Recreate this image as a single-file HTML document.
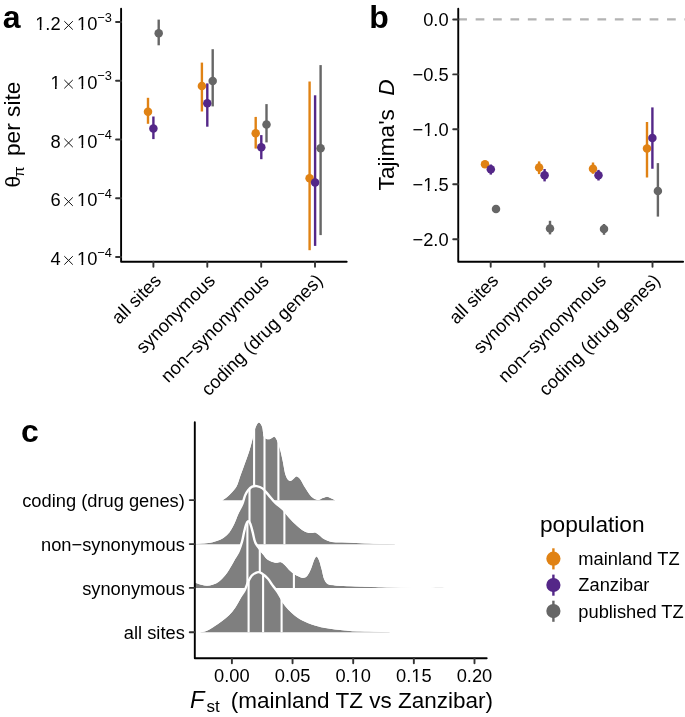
<!DOCTYPE html>
<html><head><meta charset="utf-8"><style>
html,body{margin:0;padding:0;background:#fff;}
svg{display:block;font-family:"Liberation Sans", sans-serif;will-change:transform;}
</style></head><body>
<svg width="685" height="717" viewBox="0 0 685 717">
<rect width="685" height="717" fill="#fff"/>
<path d="M121.1,8.7 V261.8 H346.7" fill="none" stroke="#000" stroke-width="1.9" stroke-linejoin="round" stroke-linecap="round"/>
<line x1="116.05" y1="22" x2="121.1" y2="22" stroke="#333" stroke-width="1.9" stroke-linecap="round"/>
<line x1="116.05" y1="80.75" x2="121.1" y2="80.75" stroke="#333" stroke-width="1.9" stroke-linecap="round"/>
<line x1="116.05" y1="139.5" x2="121.1" y2="139.5" stroke="#333" stroke-width="1.9" stroke-linecap="round"/>
<line x1="116.05" y1="198.25" x2="121.1" y2="198.25" stroke="#333" stroke-width="1.9" stroke-linecap="round"/>
<line x1="116.05" y1="257" x2="121.1" y2="257" stroke="#333" stroke-width="1.9" stroke-linecap="round"/>
<text x="60.6" y="30.05" text-anchor="end" font-size="18.3">1.2</text>
<path d="M64.3,21.2 L72.8,29.6 M72.8,21.2 L64.3,29.6" stroke="#111" stroke-width="1.0" fill="none"/>
<text x="77.0" y="30.05" font-size="18.3">10<tspan font-size="12.8" dy="-8.5">−3</tspan></text>
<text x="60.6" y="88.8" text-anchor="end" font-size="18.3">1</text>
<path d="M64.3,79.95 L72.8,88.35 M72.8,79.95 L64.3,88.35" stroke="#111" stroke-width="1.0" fill="none"/>
<text x="77.0" y="88.8" font-size="18.3">10<tspan font-size="12.8" dy="-8.5">−3</tspan></text>
<text x="60.6" y="147.55" text-anchor="end" font-size="18.3">8</text>
<path d="M64.3,138.7 L72.8,147.1 M72.8,138.7 L64.3,147.1" stroke="#111" stroke-width="1.0" fill="none"/>
<text x="77.0" y="147.55" font-size="18.3">10<tspan font-size="12.8" dy="-8.5">−4</tspan></text>
<text x="60.6" y="206.3" text-anchor="end" font-size="18.3">6</text>
<path d="M64.3,197.45 L72.8,205.85 M72.8,197.45 L64.3,205.85" stroke="#111" stroke-width="1.0" fill="none"/>
<text x="77.0" y="206.3" font-size="18.3">10<tspan font-size="12.8" dy="-8.5">−4</tspan></text>
<text x="60.6" y="265.05" text-anchor="end" font-size="18.3">4</text>
<path d="M64.3,256.2 L72.8,264.6 M72.8,256.2 L64.3,264.6" stroke="#111" stroke-width="1.0" fill="none"/>
<text x="77.0" y="265.05" font-size="18.3">10<tspan font-size="12.8" dy="-8.5">−4</tspan></text>
<line x1="153.4" y1="261.8" x2="153.4" y2="266.85" stroke="#333" stroke-width="1.9" stroke-linecap="round"/>
<line x1="207.3" y1="261.8" x2="207.3" y2="266.85" stroke="#333" stroke-width="1.9" stroke-linecap="round"/>
<line x1="261.2" y1="261.8" x2="261.2" y2="266.85" stroke="#333" stroke-width="1.9" stroke-linecap="round"/>
<line x1="315.0" y1="261.8" x2="315.0" y2="266.85" stroke="#333" stroke-width="1.9" stroke-linecap="round"/>
<text transform="translate(162.2,281.8) rotate(-45)" text-anchor="end" font-size="18.3">all sites</text>
<text transform="translate(216.1,281.8) rotate(-45)" text-anchor="end" font-size="18.3">synonymous</text>
<text transform="translate(270,281.8) rotate(-45)" text-anchor="end" font-size="18.3">non−synonymous</text>
<text transform="translate(323.8,281.8) rotate(-45)" text-anchor="end" font-size="18.3">coding (drug genes)</text>
<text transform="translate(20.3,187.5) rotate(-90)" font-size="20.6">θ</text>
<text transform="translate(24.1,177.0) rotate(-90)" font-size="15.4">π</text>
<text transform="translate(20.1,156.0) rotate(-90)" font-size="22.7">per site</text>
<text x="2.7" y="27.7" font-size="32" font-weight="bold">a</text>
<line x1="148" y1="97.8" x2="148" y2="123.8" stroke="#E08214" stroke-width="2.4"/><circle cx="148" cy="111.8" r="4.25" fill="#E08214"/>
<line x1="153.4" y1="116.5" x2="153.4" y2="139.1" stroke="#542788" stroke-width="2.4"/><circle cx="153.4" cy="128.6" r="4.25" fill="#542788"/>
<line x1="158.7" y1="19.6" x2="158.7" y2="45.3" stroke="#666666" stroke-width="2.4"/><circle cx="158.7" cy="33.3" r="4.25" fill="#666666"/>
<line x1="201.9" y1="62.6" x2="201.9" y2="111.5" stroke="#E08214" stroke-width="2.4"/><circle cx="201.9" cy="86" r="4.25" fill="#E08214"/>
<line x1="207.3" y1="83.4" x2="207.3" y2="126.7" stroke="#542788" stroke-width="2.4"/><circle cx="207.3" cy="103.2" r="4.25" fill="#542788"/>
<line x1="212.7" y1="49.2" x2="212.7" y2="106.4" stroke="#666666" stroke-width="2.4"/><circle cx="212.7" cy="80.9" r="4.25" fill="#666666"/>
<line x1="255.7" y1="116.9" x2="255.7" y2="148.6" stroke="#E08214" stroke-width="2.4"/><circle cx="255.7" cy="133.2" r="4.25" fill="#E08214"/>
<line x1="261.3" y1="135.1" x2="261.3" y2="159.2" stroke="#542788" stroke-width="2.4"/><circle cx="261.3" cy="147.3" r="4.25" fill="#542788"/>
<line x1="266.5" y1="104.1" x2="266.5" y2="142.4" stroke="#666666" stroke-width="2.4"/><circle cx="266.5" cy="124.5" r="4.25" fill="#666666"/>
<line x1="309.6" y1="81.5" x2="309.6" y2="250.2" stroke="#E08214" stroke-width="2.4"/><circle cx="309.6" cy="178.3" r="4.25" fill="#E08214"/>
<line x1="315.1" y1="95.3" x2="315.1" y2="245.9" stroke="#542788" stroke-width="2.4"/><circle cx="315.1" cy="182.6" r="4.25" fill="#542788"/>
<line x1="320.6" y1="65.1" x2="320.6" y2="235.1" stroke="#666666" stroke-width="2.4"/><circle cx="320.6" cy="148.2" r="4.25" fill="#666666"/>
<line x1="458.25" y1="19.45" x2="685.1" y2="19.45" stroke="#b3b3b3" stroke-width="2.2" stroke-dasharray="8.7 8.7"/>
<path d="M458.25,8.7 V261.8 H683.1" fill="none" stroke="#000" stroke-width="1.9" stroke-linejoin="round" stroke-linecap="round"/>
<line x1="453.2" y1="19.45" x2="458.25" y2="19.45" stroke="#333" stroke-width="1.9" stroke-linecap="round"/>
<text x="448.6" y="25.85" text-anchor="end" font-size="18.3">0.0</text>
<line x1="453.2" y1="74.39" x2="458.25" y2="74.39" stroke="#333" stroke-width="1.9" stroke-linecap="round"/>
<text x="448.6" y="80.79" text-anchor="end" font-size="18.3">−0.5</text>
<line x1="453.2" y1="129.32" x2="458.25" y2="129.32" stroke="#333" stroke-width="1.9" stroke-linecap="round"/>
<text x="448.6" y="135.72" text-anchor="end" font-size="18.3">−1.0</text>
<line x1="453.2" y1="184.26" x2="458.25" y2="184.26" stroke="#333" stroke-width="1.9" stroke-linecap="round"/>
<text x="448.6" y="190.66" text-anchor="end" font-size="18.3">−1.5</text>
<line x1="453.2" y1="239.2" x2="458.25" y2="239.2" stroke="#333" stroke-width="1.9" stroke-linecap="round"/>
<text x="448.6" y="245.6" text-anchor="end" font-size="18.3">−2.0</text>
<line x1="490.7" y1="261.8" x2="490.7" y2="266.85" stroke="#333" stroke-width="1.9" stroke-linecap="round"/>
<line x1="544.6" y1="261.8" x2="544.6" y2="266.85" stroke="#333" stroke-width="1.9" stroke-linecap="round"/>
<line x1="598.4" y1="261.8" x2="598.4" y2="266.85" stroke="#333" stroke-width="1.9" stroke-linecap="round"/>
<line x1="652.5" y1="261.8" x2="652.5" y2="266.85" stroke="#333" stroke-width="1.9" stroke-linecap="round"/>
<text transform="translate(499.5,281.8) rotate(-45)" text-anchor="end" font-size="18.3">all sites</text>
<text transform="translate(553.4,281.8) rotate(-45)" text-anchor="end" font-size="18.3">synonymous</text>
<text transform="translate(607.2,281.8) rotate(-45)" text-anchor="end" font-size="18.3">non−synonymous</text>
<text transform="translate(661.3,281.8) rotate(-45)" text-anchor="end" font-size="18.3">coding (drug genes)</text>
<text transform="translate(393.8,134.9) rotate(-90)" text-anchor="middle" font-size="22.7">Tajima&#39;s<tspan dx="13.4" font-style="italic">D</tspan></text>
<text x="369.3" y="27.6" font-size="32" font-weight="bold">b</text>
<line x1="485" y1="161.5" x2="485" y2="167" stroke="#E08214" stroke-width="2.4"/><circle cx="485" cy="164.3" r="4.25" fill="#E08214"/>
<line x1="490.8" y1="164.5" x2="490.8" y2="174.6" stroke="#542788" stroke-width="2.4"/><circle cx="490.8" cy="169.2" r="4.25" fill="#542788"/>
<circle cx="496" cy="209" r="4.25" fill="#666666"/>
<line x1="539.1" y1="161.4" x2="539.1" y2="174.1" stroke="#E08214" stroke-width="2.4"/><circle cx="539.1" cy="167.5" r="4.25" fill="#E08214"/>
<line x1="544.6" y1="169" x2="544.6" y2="181.4" stroke="#542788" stroke-width="2.4"/><circle cx="544.6" cy="175.3" r="4.25" fill="#542788"/>
<line x1="550" y1="220.8" x2="550" y2="234.4" stroke="#666666" stroke-width="2.4"/><circle cx="550" cy="228.5" r="4.25" fill="#666666"/>
<line x1="593" y1="162.5" x2="593" y2="173.8" stroke="#E08214" stroke-width="2.4"/><circle cx="593" cy="168.75" r="4.25" fill="#E08214"/>
<line x1="598.5" y1="169.9" x2="598.5" y2="180.5" stroke="#542788" stroke-width="2.4"/><circle cx="598.5" cy="175.2" r="4.25" fill="#542788"/>
<line x1="604" y1="224" x2="604" y2="234.8" stroke="#666666" stroke-width="2.4"/><circle cx="604" cy="228.9" r="4.25" fill="#666666"/>
<line x1="647" y1="122" x2="647" y2="177.5" stroke="#E08214" stroke-width="2.4"/><circle cx="647" cy="148.4" r="4.25" fill="#E08214"/>
<line x1="652.4" y1="107.4" x2="652.4" y2="168.75" stroke="#542788" stroke-width="2.4"/><circle cx="652.4" cy="138.1" r="4.25" fill="#542788"/>
<line x1="657.9" y1="163.1" x2="657.9" y2="216.6" stroke="#666666" stroke-width="2.4"/><circle cx="657.9" cy="191" r="4.25" fill="#666666"/>
<clipPath id="cc"><rect x="194.8" y="400" width="291.9" height="258.29999999999995"/></clipPath>
<g clip-path="url(#cc)">
<path d="M222.5,500.3 C223.55,499.48 226.48,497.68 228.8,495.4 C231.12,493.12 234.52,489.75 236.4,486.6 C238.28,483.45 238.65,480.48 240.1,476.5 C241.55,472.52 243.53,467.08 245.1,462.7 C246.67,458.32 248.23,454.28 249.5,450.2 C250.77,446.12 251.67,442.07 252.7,438.2 C253.73,434.33 254.65,429.62 255.7,427 C256.75,424.38 257.92,422.5 259,422.5 C260.08,422.5 261.43,424.75 262.2,427 C262.97,429.25 262.88,434.02 263.6,436 C264.32,437.98 265.38,438.42 266.5,438.9 C267.62,439.38 268.98,439.28 270.3,438.9 C271.62,438.52 273.3,436.4 274.4,436.6 C275.5,436.8 275.97,438.05 276.9,440.1 C277.83,442.15 279.05,445.55 280,448.9 C280.95,452.25 281.65,455.8 282.6,460.2 C283.55,464.6 284.45,471.85 285.7,475.3 C286.95,478.75 288.32,480.73 290.1,480.9 C291.88,481.07 294.73,476.62 296.4,476.3 C298.07,475.98 298.63,477.08 300.1,479 C301.57,480.92 303.32,484.87 305.2,487.8 C307.08,490.73 309.32,494.58 311.4,496.6 C313.48,498.62 315.82,499.67 317.7,499.9 C319.58,500.13 321.13,498.53 322.7,498 C324.27,497.47 325.63,496.63 327.1,496.7 C328.57,496.77 330.13,497.8 331.5,498.4 C332.87,499 334.67,499.98 335.3,500.3 L335.3,500.3 L222.5,500.3 Z" fill="#7f7f7f" stroke="none"/>
<line x1="254.1" y1="500.3" x2="254.1" y2="428.75" stroke="#fff" stroke-width="2.1"/>
<line x1="264.5" y1="500.3" x2="264.5" y2="434.76" stroke="#fff" stroke-width="2.1"/>
<line x1="278.4" y1="500.3" x2="278.4" y2="441.06" stroke="#fff" stroke-width="2.1"/>
<path d="M221.82,499.43 C222.86,498.63 225.76,496.85 228.03,494.62 C230.3,492.38 233.62,489.12 235.46,486.04 C237.3,482.95 237.63,480.07 239.07,476.12 C240.5,472.17 242.5,466.7 244.06,462.33 C245.63,457.95 247.19,453.94 248.45,449.87 C249.71,445.81 250.6,441.8 251.64,437.92 C252.68,434.04 253.45,429.34 254.68,426.59 C255.91,423.84 257.57,421.39 259,421.4 C260.43,421.41 262.3,424.27 263.24,426.65 C264.18,429.02 264.02,433.75 264.63,435.63 C265.25,437.5 266.04,437.52 266.94,437.89 C267.83,438.26 268.72,438.24 269.99,437.84 C271.27,437.45 273.28,435.22 274.6,435.52 C275.91,435.82 276.82,437.46 277.9,439.64 C278.98,441.82 280.1,445.21 281.06,448.6 C282.02,451.99 282.73,455.58 283.68,459.97 C284.62,464.36 285.65,471.62 286.73,474.93 C287.82,478.23 288.63,479.76 290.2,479.8 C291.78,479.85 294.4,475.46 296.19,475.22 C297.99,474.97 299.32,476.33 300.97,478.33 C302.63,480.33 304.26,484.29 306.13,487.21 C307.99,490.12 310.21,493.88 312.17,495.81 C314.12,497.74 316.14,498.62 317.84,498.81 C319.53,499 320.79,497.49 322.35,496.96 C323.9,496.42 325.55,495.53 327.15,495.6 C328.75,495.67 330.5,496.77 331.94,497.39 C333.38,498.01 335.15,499 335.79,499.32" fill="none" stroke="#fff" stroke-width="2.4" stroke-linejoin="round"/>
<path d="M193,543.9 C194.17,543.85 197.43,543.75 200,543.6 C202.57,543.45 205.62,543.43 208.4,543 C211.18,542.57 214.2,541.87 216.7,541 C219.2,540.13 221.3,539.23 223.4,537.8 C225.5,536.37 227.5,534.7 229.3,532.4 C231.1,530.1 232.75,526.95 234.2,524 C235.65,521.05 236.67,518 238,514.7 C239.33,511.4 241.02,507.42 242.2,504.2 C243.38,500.98 244.12,497.73 245.1,495.4 C246.08,493.07 246.92,491.65 248.1,490.2 C249.28,488.75 250.77,487.38 252.2,486.7 C253.63,486.02 254.98,485.82 256.7,486.1 C258.42,486.38 260.55,486.93 262.5,488.4 C264.45,489.87 266.25,492.47 268.4,494.9 C270.55,497.33 273.07,500.48 275.4,503 C277.73,505.52 280.07,507.47 282.4,510 C284.73,512.53 287.07,515.67 289.4,518.2 C291.73,520.73 294.02,523.07 296.4,525.2 C298.78,527.33 301.68,529.73 303.7,531 C305.72,532.27 307.12,532.48 308.5,532.8 C309.88,533.12 310.9,532.95 312,532.9 C313.1,532.85 313.95,532.18 315.1,532.5 C316.25,532.82 317.63,533.85 318.9,534.8 C320.17,535.75 321.28,537.23 322.7,538.2 C324.12,539.17 325.67,539.95 327.4,540.6 C329.13,541.25 330.17,541.8 333.1,542.1 C336.03,542.4 341.17,542.26 345,542.4 C348.83,542.54 352.27,542.78 356.1,542.95 C359.93,543.12 364.02,543.31 368,543.45 C371.98,543.59 375.42,543.67 380,543.8 C384.58,543.92 392.92,544.13 395.5,544.2 L395.5,544.2 L193,544.2 Z" fill="#7f7f7f" stroke="none"/>
<line x1="249.5" y1="544.2" x2="249.5" y2="489" stroke="#fff" stroke-width="2.1"/>
<line x1="264.6" y1="544.2" x2="264.6" y2="490.71" stroke="#fff" stroke-width="2.1"/>
<line x1="284.4" y1="544.2" x2="284.4" y2="510.65" stroke="#fff" stroke-width="2.1"/>
<path d="M192.95,542.8 C194.12,542.75 197.39,542.65 199.94,542.5 C202.48,542.35 205.5,542.34 208.23,541.91 C210.96,541.49 213.91,540.8 216.34,539.96 C218.76,539.12 220.76,538.26 222.78,536.89 C224.8,535.52 226.69,533.95 228.43,531.72 C230.17,529.49 231.79,526.42 233.21,523.51 C234.64,520.61 235.48,517.51 236.98,514.29 C238.48,511.07 240.85,507.35 242.2,504.2 C243.55,501.05 244.12,497.73 245.1,495.4 C246.08,493.07 246.92,491.65 248.1,490.2 C249.28,488.75 250.77,487.38 252.2,486.7 C253.63,486.02 254.98,485.82 256.7,486.1 C258.42,486.38 260.55,486.93 262.5,488.4 C264.45,489.87 266.25,492.47 268.4,494.9 C270.55,497.33 272.93,500.61 275.4,503 C277.87,505.39 280.74,506.85 283.21,509.25 C285.68,511.66 287.89,514.93 290.21,517.45 C292.53,519.98 294.79,522.28 297.13,524.38 C299.48,526.48 302.35,528.84 304.29,530.07 C306.22,531.29 307.47,531.44 308.75,531.73 C310.02,532.02 310.84,531.85 311.95,531.8 C313.06,531.75 314.12,531.09 315.39,531.44 C316.66,531.79 318.24,532.94 319.56,533.92 C320.88,534.9 321.95,536.35 323.32,537.29 C324.69,538.23 326.14,538.95 327.79,539.57 C329.43,540.19 330.34,540.72 333.21,541.01 C336.09,541.29 341.22,541.16 345.04,541.3 C348.86,541.44 352.32,541.68 356.15,541.85 C359.98,542.03 364.06,542.21 368.04,542.35 C372.02,542.49 375.45,542.58 380.03,542.7 C384.61,542.83 392.95,543.03 395.53,543.1" fill="none" stroke="#fff" stroke-width="2.4" stroke-linejoin="round"/>
<path d="M193,582.4 C193.45,582.47 194.32,582.42 195.7,582.8 C197.08,583.18 199.42,584.22 201.3,584.7 C203.18,585.18 205.12,585.7 207,585.7 C208.88,585.7 210.62,585.38 212.6,584.7 C214.58,584.02 216.8,583.17 218.9,581.6 C221,580.03 223.32,577.6 225.2,575.3 C227.08,573 228.53,570.52 230.2,567.8 C231.87,565.08 233.73,561.73 235.2,559 C236.67,556.27 237.85,554.33 239,551.4 C240.15,548.47 241.27,544.53 242.1,541.4 C242.93,538.27 243.37,535.32 244,532.6 C244.63,529.88 245.27,526.98 245.9,525.1 C246.53,523.22 247.07,521.52 247.8,521.3 C248.53,521.08 249.47,521.92 250.3,523.8 C251.13,525.68 251.97,529.48 252.8,532.6 C253.63,535.72 254.18,539.6 255.3,542.5 C256.42,545.4 258.13,547.92 259.5,550 C260.87,552.08 262.15,553.4 263.5,555 C264.85,556.6 265.67,558.32 267.6,559.6 C269.53,560.88 272.92,562.28 275.1,562.7 C277.28,563.12 279.03,561.67 280.7,562.1 C282.37,562.53 283.63,563.93 285.1,565.3 C286.57,566.67 288.03,568.85 289.5,570.3 C290.97,571.75 292.53,573.07 293.9,574 C295.27,574.93 296.23,575.27 297.7,575.9 C299.17,576.53 301.13,577.8 302.7,577.8 C304.27,577.8 305.73,577.37 307.1,575.9 C308.47,574.43 309.75,571.62 310.9,569 C312.05,566.38 313.07,562.28 314,560.2 C314.93,558.12 315.67,556.5 316.5,556.5 C317.33,556.5 318.15,558.12 319,560.2 C319.85,562.28 320.75,565.85 321.6,569 C322.45,572.15 323.07,576.58 324.1,579.1 C325.13,581.62 325.98,583.05 327.8,584.1 C329.62,585.15 332.4,585.1 335,585.4 C337.6,585.7 339.23,585.7 343.4,585.9 C347.57,586.1 354.17,586.38 360,586.6 C365.83,586.82 369.48,587 378.4,587.2 C387.32,587.4 404.9,587.69 413.5,587.8 C422.1,587.91 425.72,587.88 430,587.85 C434.28,587.82 436.7,587.6 439.2,587.6 C441.7,587.6 443.07,587.78 445,587.85 C446.93,587.92 449.83,587.98 450.8,588 L450.8,588 L193,588 Z" fill="#7f7f7f" stroke="none"/>
<line x1="247.4" y1="588" x2="247.4" y2="522.1" stroke="#fff" stroke-width="2.1"/>
<line x1="259.8" y1="588" x2="259.8" y2="548.84" stroke="#fff" stroke-width="2.1"/>
<line x1="293.9" y1="588" x2="293.9" y2="572.57" stroke="#fff" stroke-width="2.1"/>
<path d="M193.16,581.31 C193.63,581.38 194.59,581.35 195.99,581.74 C197.4,582.13 199.74,583.16 201.57,583.63 C203.41,584.11 205.22,584.6 207,584.6 C208.78,584.6 210.37,584.31 212.24,583.66 C214.12,583.01 216.22,582.23 218.24,580.72 C220.26,579.21 222.51,576.85 224.35,574.6 C226.19,572.35 227.62,569.91 229.26,567.22 C230.91,564.54 232.66,561.14 234.23,558.48 C235.8,555.82 237.35,554.11 238.66,551.27 C239.97,548.42 241.21,544.51 242.1,541.4 C242.99,538.29 243.37,535.32 244,532.6 C244.63,529.88 245.27,526.98 245.9,525.1 C246.53,523.22 247.07,521.52 247.8,521.3 C248.53,521.08 249.47,521.92 250.3,523.8 C251.13,525.68 251.97,529.48 252.8,532.6 C253.63,535.72 254.06,539.68 255.3,542.5 C256.54,545.32 258.76,547.53 260.27,549.5 C261.77,551.46 263.02,552.76 264.34,554.29 C265.66,555.82 266.38,557.46 268.21,558.68 C270.04,559.91 273.18,561.23 275.31,561.62 C277.43,562.01 279.22,560.56 280.98,561.04 C282.73,561.51 284.3,563.08 285.85,564.5 C287.4,565.91 288.83,568.09 290.27,569.52 C291.72,570.95 293.21,572.2 294.52,573.09 C295.83,573.99 296.77,574.29 298.14,574.89 C299.5,575.49 301.34,576.66 302.7,576.7 C304.06,576.74 305.1,576.51 306.3,575.15 C307.49,573.79 308.78,571.12 309.89,568.56 C311.01,565.99 311.89,561.94 313,559.75 C314.1,557.56 315.33,555.39 316.5,555.4 C317.67,555.41 318.99,557.57 320.02,559.78 C321.05,562 321.81,565.56 322.66,568.71 C323.51,571.86 324.17,576.28 325.12,578.68 C326.07,581.09 326.68,582.21 328.35,583.15 C330.02,584.09 332.61,584.03 335.13,584.31 C337.64,584.58 339.3,584.6 343.45,584.8 C347.61,585 354.21,585.28 360.04,585.5 C365.87,585.72 369.51,585.9 378.42,586.1 C387.34,586.3 404.92,586.59 413.51,586.7 C422.11,586.81 425.71,586.78 429.99,586.75 C434.27,586.72 436.69,586.5 439.2,586.5 C441.71,586.5 443.1,586.68 445.04,586.75 C446.98,586.82 449.86,586.88 450.83,586.9" fill="none" stroke="#fff" stroke-width="2.4" stroke-linejoin="round"/>
<path d="M200.1,632.2 C201.15,632 204.1,631.93 206.4,631 C208.7,630.07 211.4,628.18 213.9,626.6 C216.4,625.02 218.88,623.38 221.4,621.5 C223.92,619.62 226.7,617.6 229,615.3 C231.3,613 233.32,610.43 235.2,607.7 C237.08,604.97 238.72,601.83 240.3,598.9 C241.88,595.97 243.45,592.82 244.7,590.1 C245.95,587.38 246.65,585 247.8,582.6 C248.95,580.2 250.03,577.42 251.6,575.7 C253.17,573.98 255.53,572.72 257.2,572.3 C258.87,571.88 259.8,572.13 261.6,573.2 C263.4,574.27 266.17,576.67 268,578.7 C269.83,580.73 271.03,583.07 272.6,585.4 C274.17,587.73 275.75,589.88 277.4,592.7 C279.05,595.52 280.67,599.45 282.5,602.3 C284.33,605.15 286.45,607.67 288.4,609.8 C290.35,611.93 292.27,613.53 294.2,615.1 C296.13,616.67 298.05,618.03 300,619.2 C301.95,620.37 303.95,621.23 305.9,622.1 C307.85,622.97 309.75,623.72 311.7,624.4 C313.65,625.08 315.65,625.67 317.6,626.2 C319.55,626.73 320.48,627.05 323.4,627.6 C326.32,628.15 331.5,629.03 335.1,629.5 C338.7,629.97 341.38,630.1 345,630.4 C348.62,630.7 349.38,631.02 356.8,631.3 C364.22,631.58 384.05,631.97 389.5,632.1 L389.5,632.2 L200.1,632.2 Z" fill="#7f7f7f" stroke="none"/>
<line x1="248.6" y1="632.2" x2="248.6" y2="581.15" stroke="#fff" stroke-width="2.1"/>
<line x1="263.1" y1="632.2" x2="263.1" y2="574.49" stroke="#fff" stroke-width="2.1"/>
<line x1="281.6" y1="632.2" x2="281.6" y2="598.68" stroke="#fff" stroke-width="2.1"/>
<path d="M199.89,631.12 C200.91,630.93 203.75,630.89 205.99,629.98 C208.22,629.07 210.85,627.23 213.31,625.67 C215.77,624.11 218.26,622.48 220.74,620.62 C223.23,618.76 225.96,616.78 228.22,614.52 C230.48,612.26 232.44,609.77 234.29,607.08 C236.15,604.39 237.6,601.21 239.33,598.38 C241.07,595.55 243.29,592.73 244.7,590.1 C246.11,587.47 246.65,585 247.8,582.6 C248.95,580.2 250.03,577.42 251.6,575.7 C253.17,573.98 255.53,572.72 257.2,572.3 C258.87,571.88 259.8,572.13 261.6,573.2 C263.4,574.27 266.17,576.67 268,578.7 C269.83,580.73 270.96,583.11 272.6,585.4 C274.24,587.69 276.04,589.72 277.84,592.44 C279.65,595.16 281.53,598.94 283.43,601.7 C285.32,604.47 287.3,606.97 289.21,609.06 C291.12,611.15 293,612.71 294.89,614.25 C296.78,615.78 298.66,617.11 300.56,618.26 C302.47,619.4 304.43,620.24 306.35,621.09 C308.26,621.95 310.14,622.69 312.06,623.36 C313.99,624.04 315.97,624.61 317.89,625.14 C319.81,625.67 320.71,625.97 323.6,626.52 C326.5,627.06 331.66,627.95 335.24,628.41 C338.82,628.87 341.49,629.01 345.09,629.3 C348.69,629.6 349.44,629.92 356.84,630.2 C364.25,630.48 384.08,630.87 389.53,631" fill="none" stroke="#fff" stroke-width="2.4" stroke-linejoin="round"/>
</g>
<path d="M194.8,422.2 V658.3 H486.7" fill="none" stroke="#000" stroke-width="1.9" stroke-linejoin="round" stroke-linecap="round"/>
<line x1="189.75" y1="500.1" x2="194.8" y2="500.1" stroke="#333" stroke-width="1.9" stroke-linecap="round"/>
<text x="184.8" y="506.8" text-anchor="end" font-size="18.3">coding (drug genes)</text>
<line x1="189.75" y1="544.1" x2="194.8" y2="544.1" stroke="#333" stroke-width="1.9" stroke-linecap="round"/>
<text x="184.8" y="550.8" text-anchor="end" font-size="18.3">non−synonymous</text>
<line x1="189.75" y1="587.9" x2="194.8" y2="587.9" stroke="#333" stroke-width="1.9" stroke-linecap="round"/>
<text x="184.8" y="594.6" text-anchor="end" font-size="18.3">synonymous</text>
<line x1="189.75" y1="632.2" x2="194.8" y2="632.2" stroke="#333" stroke-width="1.9" stroke-linecap="round"/>
<text x="184.8" y="638.9" text-anchor="end" font-size="18.3">all sites</text>
<line x1="231.9" y1="658.3" x2="231.9" y2="663.35" stroke="#333" stroke-width="1.9" stroke-linecap="round"/>
<text x="231.9" y="682.2" text-anchor="middle" font-size="18.3">0.00</text>
<line x1="292.55" y1="658.3" x2="292.55" y2="663.35" stroke="#333" stroke-width="1.9" stroke-linecap="round"/>
<text x="292.55" y="682.2" text-anchor="middle" font-size="18.3">0.05</text>
<line x1="353.2" y1="658.3" x2="353.2" y2="663.35" stroke="#333" stroke-width="1.9" stroke-linecap="round"/>
<text x="353.2" y="682.2" text-anchor="middle" font-size="18.3">0.10</text>
<line x1="413.85" y1="658.3" x2="413.85" y2="663.35" stroke="#333" stroke-width="1.9" stroke-linecap="round"/>
<text x="413.85" y="682.2" text-anchor="middle" font-size="18.3">0.15</text>
<line x1="474.5" y1="658.3" x2="474.5" y2="663.35" stroke="#333" stroke-width="1.9" stroke-linecap="round"/>
<text x="474.5" y="682.2" text-anchor="middle" font-size="18.3">0.20</text>
<text x="190.0" y="707.9" font-size="23.6" font-style="italic">F</text>
<text x="206.4" y="712.0" font-size="17">st</text>
<text x="230.8" y="707.8" font-size="22.5">(mainland TZ vs Zanzibar)</text>
<text x="20.9" y="441.8" font-size="32" font-weight="bold">c</text>
<text x="539.9" y="532.0" font-size="22.7">population</text>
<line x1="553.4" y1="548.3" x2="553.4" y2="569.4" stroke="#E08214" stroke-width="2.4"/>
<circle cx="553.4" cy="558.7" r="7.1" fill="#E08214"/>
<text x="578.3" y="565.1" font-size="18.3">mainland TZ</text>
<line x1="553.4" y1="574.6" x2="553.4" y2="595.7" stroke="#542788" stroke-width="2.4"/>
<circle cx="553.4" cy="585" r="7.1" fill="#542788"/>
<text x="578.3" y="591.4" font-size="18.3">Zanzibar</text>
<line x1="553.4" y1="600.7" x2="553.4" y2="621.8" stroke="#666666" stroke-width="2.4"/>
<circle cx="553.4" cy="611.1" r="7.1" fill="#666666"/>
<text x="578.3" y="617.5" font-size="18.3">published TZ</text>
<rect x="35.18" y="27.49" width="4.54" height="3.2" fill="#fff"/>
<rect x="41.38" y="27.49" width="4.04" height="3.2" fill="#fff"/>
<rect x="77" y="27.49" width="4.54" height="3.2" fill="#fff"/>
<rect x="83.2" y="27.49" width="4.04" height="3.2" fill="#fff"/>
<rect x="50.43" y="86.24" width="4.54" height="3.2" fill="#fff"/>
<rect x="56.63" y="86.24" width="4.04" height="3.2" fill="#fff"/>
<rect x="77" y="86.24" width="4.54" height="3.2" fill="#fff"/>
<rect x="83.2" y="86.24" width="4.04" height="3.2" fill="#fff"/>
<rect x="77" y="144.99" width="4.54" height="3.2" fill="#fff"/>
<rect x="83.2" y="144.99" width="4.04" height="3.2" fill="#fff"/>
<rect x="77" y="203.74" width="4.54" height="3.2" fill="#fff"/>
<rect x="83.2" y="203.74" width="4.04" height="3.2" fill="#fff"/>
<rect x="77" y="262.49" width="4.54" height="3.2" fill="#fff"/>
<rect x="83.2" y="262.49" width="4.04" height="3.2" fill="#fff"/>
<rect x="423.18" y="133.16" width="4.54" height="3.2" fill="#fff"/>
<rect x="429.38" y="133.16" width="4.04" height="3.2" fill="#fff"/>
<rect x="423.18" y="188.1" width="4.54" height="3.2" fill="#fff"/>
<rect x="429.38" y="188.1" width="4.04" height="3.2" fill="#fff"/>
<rect x="350.64" y="679.64" width="4.54" height="3.2" fill="#fff"/>
<rect x="356.84" y="679.64" width="4.04" height="3.2" fill="#fff"/>
<rect x="411.29" y="679.64" width="4.54" height="3.2" fill="#fff"/>
<rect x="417.49" y="679.64" width="4.04" height="3.2" fill="#fff"/>
</svg>
</body></html>
